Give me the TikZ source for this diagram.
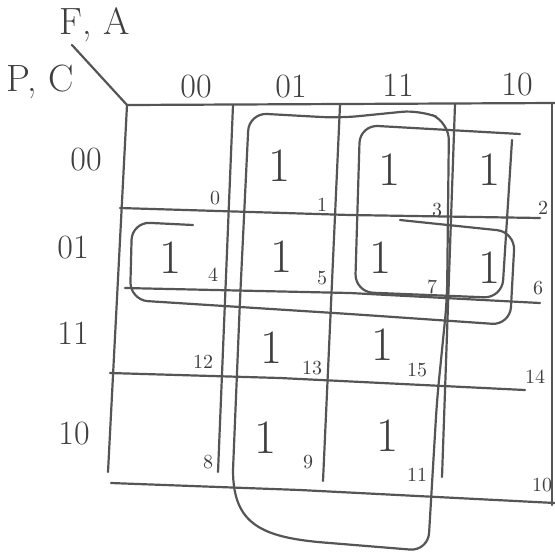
\documentclass[tikz,border=0pt]{standalone}
\definecolor{pencil}{HTML}{555555}
\definecolor{ink}{HTML}{3F3F3F}
\begin{document}
\begin{tikzpicture}[x=0.5pt,y=-0.5pt,
  pen/.style={draw=pencil, line width=1.1pt, line cap=round, line join=round},
  looppen/.style={pen, rounded corners=9pt},
  lbl/.style={text=ink, font=\fontsize{17}{17}\selectfont, inner sep=0pt},
  varlbl/.style={text=ink, font=\fontsize{19}{19}\selectfont, inner sep=0pt},
  one/.style={text=ink, font=\fontsize{24}{24}\selectfont, inner sep=0pt},
  idx/.style={text=ink, font=\fontsize{10}{10}\selectfont, inner sep=0pt}]
\useasboundingbox (0,0) rectangle (555,553);
\fill[white] (0,0) rectangle (555,553);

% variable labels and corner diagonal
\node[varlbl] (fa) at (95,25) {F, A};
\node[varlbl] (pc) at (40,82) {P, C};
\coordinate (diag) at (72,45);
\coordinate (corner) at (127,105);
\draw[pen] (diag) -- (corner);

% column labels
\node[lbl] (c00) at (196,87) {00};
\node[lbl] (c01) at (291,87) {01};
\node[lbl] (c11) at (398,85) {11};
\node[lbl] (c10) at (517,85) {10};
% row labels
\node[lbl] (r00) at (86,160) {00};
\node[lbl] (r01) at (73,248) {01};
\node[lbl] (r11) at (73,333) {11};
\node[lbl] (r10) at (74,434) {10};

% grid
\draw[pen] (corner) -- (555,103);
\draw[pen] (corner) -- (108,472);
\draw[pen] (233,105) -- (218,472);
\draw[pen] (340,105) -- (323,481);
\draw[pen] (455,104) -- (442,477);
\draw[pen] (552,104) -- (552,505);
\draw[pen] (120,208) -- (350,215) -- (540,218);
\draw[pen] (125,288) -- (350,293) -- (540,303);
\draw[pen] (110,373) -- (280,378) -- (525,390);
\draw[pen] (111,483) -- (300,490) -- (555,503);

% ones
\node[one] (m1) at (280,166) {1};
\node[one] (m3) at (390,170) {1};
\node[one] (m2) at (490,170) {1};
\node[one] (m4) at (171,258) {1};
\node[one] (m5) at (282,257) {1};
\node[one] (m7) at (381,258) {1};
\node[one] (m6) at (490,268) {1};
\node[one] (m13) at (272,348) {1};
\node[one] (m15) at (383,345) {1};
\node[one] (m9) at (266,438) {1};
\node[one] (m11) at (388,436) {1};

% cell indices
\node[idx] (i0) at (215,198) {0};
\node[idx] (i1) at (322,205) {1};
\node[idx] (i3) at (437,210) {3};
\node[idx] (i2) at (543,208) {2};
\node[idx] (i4) at (213,275) {4};
\node[idx] (i5) at (322,278) {5};
\node[idx] (i7) at (432,287) {7};
\node[idx] (i6) at (538,288) {6};
\node[idx] (i12) at (203,362) {12};
\node[idx] (i13) at (312,368) {13};
\node[idx] (i15) at (417,370) {15};
\node[idx] (i14) at (535,377) {14};
\node[idx] (i8) at (208,462) {8};
\node[idx] (i9) at (308,462) {9};
\node[idx] (i11) at (417,475) {11};
\node[idx] (i10) at (542,485) {10};

% groups
% big vertical loop (columns 01 and 11)
\draw[pen] (233,470) .. controls (233,525) and (262,538) .. (330,543)
  [rounded corners=9pt] -- (428,551) -- (437,400) -- (447,300) -- (449,122)
  -- (420,110) -- (340,118) -- (249,113) -- (240,300) -- (233,470);
% row 01 loop
\draw[looppen] (193,225) -- (132,222) -- (130,300) -- (350,314) -- (510,325)
  -- (515,232) -- (400,220);
% 2x2 loop (cells 3,2,7,6)
\draw[looppen] (520,134) -- (360,125) -- (355,292) -- (502,298) -- (512,140);
\end{tikzpicture}
\end{document}
